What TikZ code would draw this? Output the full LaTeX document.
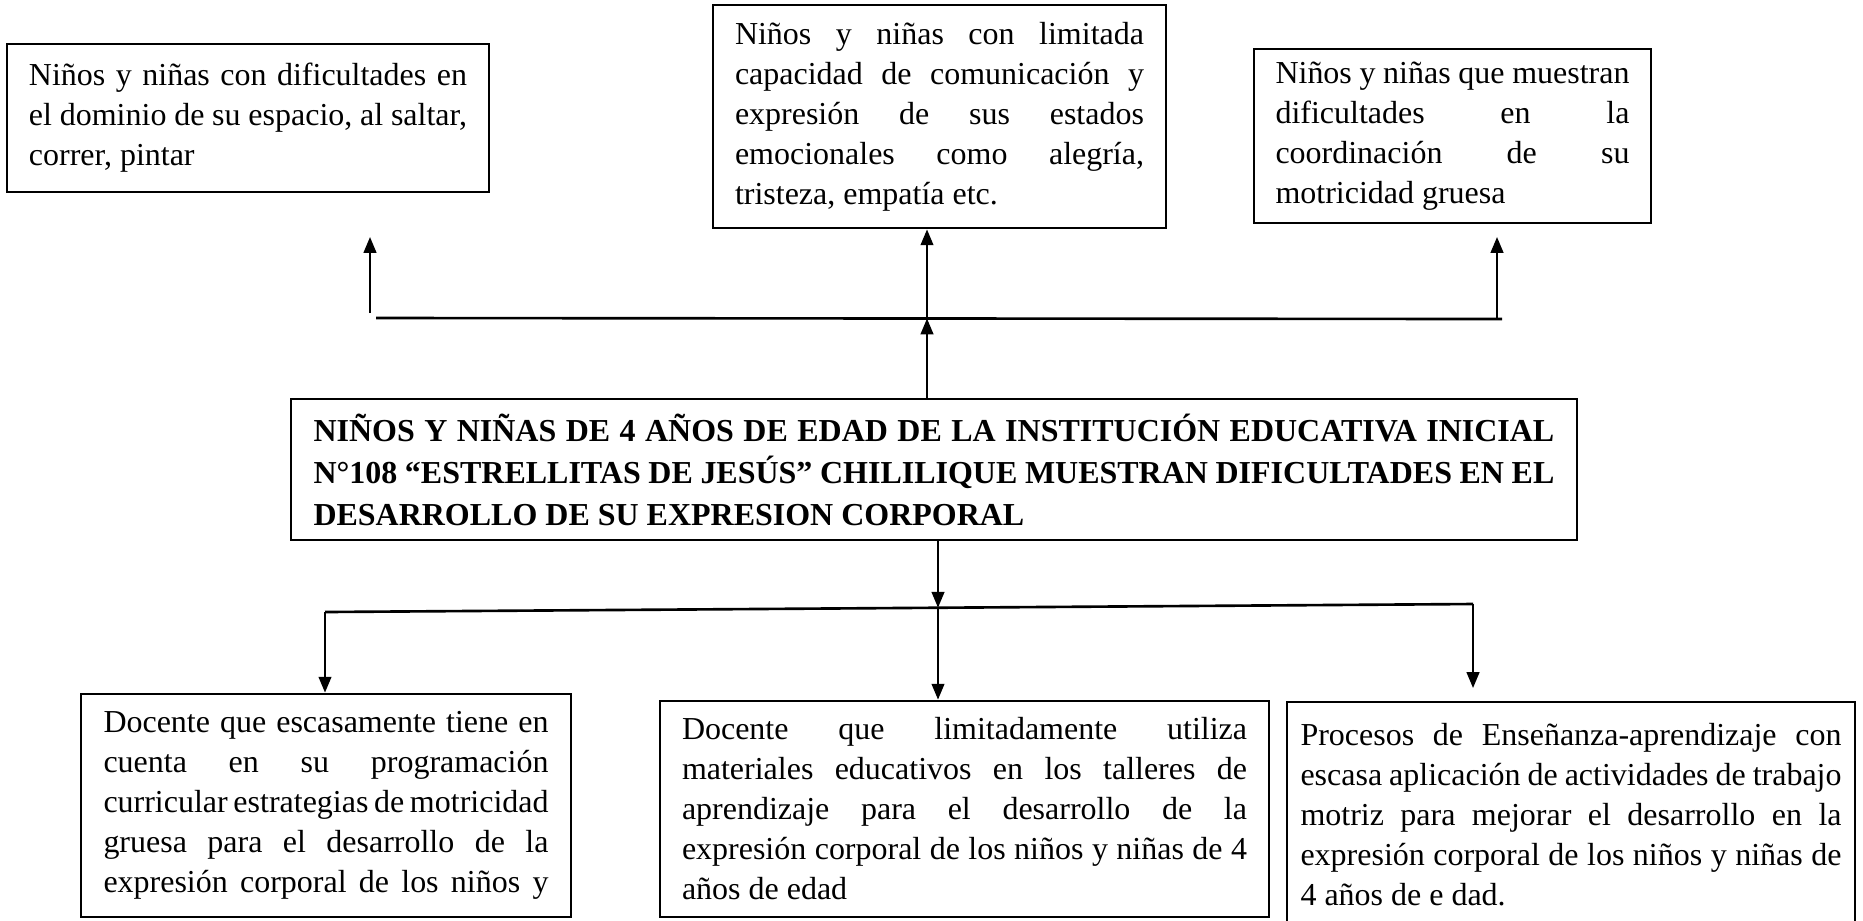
\documentclass[tikz,border=0pt]{standalone}
\usepackage{fontspec}
\setmainfont{Liberation Serif}
\usetikzlibrary{arrows.meta, positioning}
\tolerance=10000
\hyphenpenalty=10000
\exhyphenpenalty=10000
\tikzstyle{flecha} = [line width=0.6pt,-{Triangle[length=4.5pt,width=3.6pt]}]
\tikzstyle{linea} = [line width=0.75pt]
\tikzset{
	caja/.style = {rectangle, draw=black, line width=0.8pt, inner xsep=0pt, inner ysep=0pt,
		align=justify, font=\fontsize{9.1pt}{11.38pt}\selectfont},
	problemabox/.style = {caja, font=\fontsize{9.1pt}{11.95pt}\selectfont\bfseries},
}

\begin{document}
\begin{tikzpicture}
\useasboundingbox (0,0) rectangle (18.63,-9.2);
% Placement of nodes
\node (efecto1) [caja, minimum width=4.82cm, minimum height=1.48cm, text width=4.38cm] at (2.48,-1.18)
	{Niños y niñas con dificultades en\linebreak el dominio de su espacio, al saltar,\linebreak correr, pintar};
\node (efecto2) [caja, minimum width=4.53cm, minimum height=2.23cm, text width=4.09cm] at (9.395,-1.165)
	{Niños y niñas con limitada\linebreak capacidad de comunicación y\linebreak expresión de sus estados\linebreak emocionales como alegría,\linebreak tristeza, empatía etc.};
\node (efecto3) [caja, minimum width=3.97cm, minimum height=1.74cm, text width=3.54cm] at (14.525,-1.36)
	{Niños y niñas que muestran\linebreak dificultades en la\linebreak coordinación de su\linebreak motricidad gruesa};
\node (problema) [problemabox, minimum width=12.86cm, minimum height=1.41cm, text width=12.41cm] at (9.34,-4.695)
	{NIÑOS Y NIÑAS DE 4 AÑOS DE EDAD DE LA INSTITUCIÓN EDUCATIVA INICIAL\linebreak N°108 “ESTRELLITAS DE JESÚS” CHILILIQUE MUESTRAN DIFICULTADES EN EL\linebreak DESARROLLO DE SU EXPRESION CORPORAL};
\node (causa1) [caja, minimum width=4.90cm, minimum height=2.23cm, text width=4.45cm] at (3.26,-8.055)
	{Docente que escasamente tiene en\linebreak cuenta en su programación\linebreak curricular estrategias de motricidad\linebreak gruesa para el desarrollo de la\linebreak expresión corporal de los niños y\parfillskip=0pt\par};
\node (causa2) [caja, minimum width=6.09cm, minimum height=2.16cm, text width=5.65cm] at (9.645,-8.09)
	{Docente que limitadamente utiliza\linebreak materiales educativos en los talleres de\linebreak aprendizaje para el desarrollo de la\linebreak expresión corporal de los niños y niñas de 4\linebreak años de edad};
\node (causa3) [caja, minimum width=5.68cm, minimum height=2.26cm, text width=5.41cm] at (15.71,-8.15)
	{Procesos de Enseñanza-aprendizaje con\linebreak escasa aplicación de actividades de trabajo\linebreak motriz para mejorar el desarrollo en la\linebreak expresión corporal de los niños y niñas de\linebreak 4 años de e dad.};

% Line ends
\coordinate (e1) at (3.70,-3.13);
\coordinate (e1b) at (3.70,-2.37);
\coordinate (eI) at (3.76,-3.18);
\coordinate (e2) at (9.27,-3.185);
\coordinate (eD) at (15.02,-3.19);
\coordinate (e3) at (14.97,-3.19);
\coordinate (e3b) at (14.97,-2.37);
\coordinate (c1) at (3.25,-6.12);
\coordinate (c2) at (9.38,-6.077);
\coordinate (c3) at (14.73,-6.04);
\coordinate (c3b) at (14.73,-6.88);

% Drawing of lines
\draw [linea] (eI) -- (eD);
\draw [flecha] (e1) -- (e1b);
\draw [flecha] (problema.north -| e2) -- (e2);
\draw [flecha] (e2) -- (e2 |- efecto2.south);
\draw [flecha] (e3) -- (e3b);

\draw [flecha] (problema.south -| c2) -- (c2);
\draw [linea] (c1) -- (c3);
\draw [flecha] (c1) -- (c1 |- causa1.north);
\draw [flecha] (c2) -- (c2 |- causa2.north);
\draw [flecha] (c3) -- (c3b);

\end{tikzpicture}
\end{document}
